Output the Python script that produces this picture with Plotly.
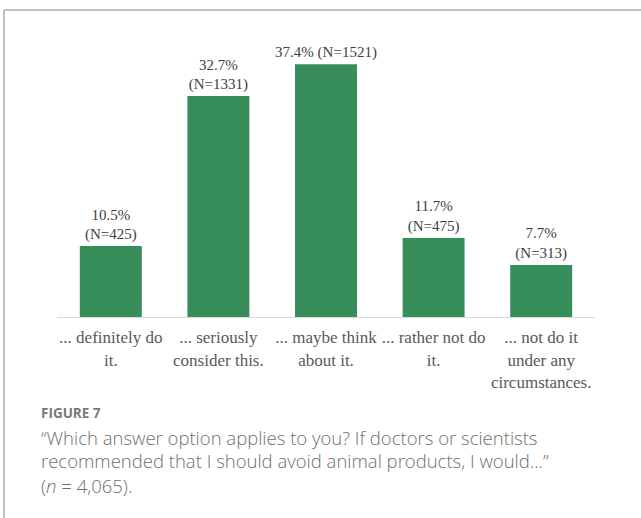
import plotly.graph_objects as go

# Survey answers: "If doctors or scientists recommended that I should avoid animal products, I would..."
categories = [
    "... definitely do<br>it.",
    "... seriously<br>consider this.",
    "... maybe think<br>about it.",
    "... rather not do<br>it.",
    "... not do it<br>under any<br>circumstances.",
]
percent = [10.5, 32.7, 37.4, 11.7, 7.7]
counts = [425, 1331, 1521, 475, 313]
label_joins = ["<br>", "<br>", " ", "<br>", "<br>"]

W, H = 641, 518
M_L, M_R, M_T, M_B = 57, 46, 40, 201
PW, PH = W - M_L - M_R, H - M_T - M_B


def px_x(x):
    return (x - M_L) / PW


def px_y(y):
    return (H - M_B - y) / PH


bar_text = [f"{p}%{j}(N={n})" for p, n, j in zip(percent, counts, label_joins)]

fig = go.Figure(
    go.Bar(
        x=list(range(len(categories))),
        y=percent,
        text=bar_text,
        textposition="outside",
        constraintext="none",
        textfont=dict(family="Liberation Serif", size=15, color="#404040"),
        marker=dict(color="#378e5b", line=dict(width=0)),
        cliponaxis=False,
        hoverinfo="skip",
    )
)

fig.update_layout(
    width=W,
    height=H,
    margin=dict(l=M_L, r=M_R, t=M_T, b=M_B, pad=0),
    paper_bgcolor="white",
    plot_bgcolor="white",
    bargap=0.424,
    showlegend=False,
    xaxis=dict(
        tickmode="array",
        tickvals=list(range(len(categories))),
        ticktext=categories,
        range=[-0.5, len(categories) - 0.5],
        showline=True,
        linecolor="#d9d9d9",
        linewidth=1,
        showgrid=False,
        zeroline=False,
        ticks="",
        ticklabelstandoff=5,
        tickfont=dict(family="Liberation Serif", size=17, color="#595959"),
        fixedrange=True,
    ),
    yaxis=dict(
        range=[0, 41],
        visible=False,
        showgrid=False,
        zeroline=False,
        fixedrange=True,
    ),
)

# Frame around the figure panel
fig.add_shape(type="line", xref="paper", yref="paper",
              x0=px_x(4), x1=px_x(W + 20), y0=px_y(10), y1=px_y(10),
              line=dict(color="#c2c2c2", width=2))
fig.add_shape(type="line", xref="paper", yref="paper",
              x0=px_x(4), x1=px_x(4), y0=px_y(10), y1=px_y(H + 20),
              line=dict(color="#a9a9a9", width=1.5))

# Caption
caption_font = dict(family="Open Sans", size=18.5, color="#6f6f6f", weight=300)
fig.add_annotation(
    text="<b>FIGURE 7</b>", xref="paper", yref="paper",
    x=px_x(39), y=px_y(413), xanchor="left", yanchor="middle", showarrow=False,
    font=dict(family="Open Sans", size=13.5, color="#7a7a7a"),
)
caption_lines = [
    "\u201cWhich answer option applies to you? If doctors or scientists",
    "recommended that I should avoid animal products, I would...\u201d",
    "(<i>n</i> = 4,065).",
]
for line, yc in zip(caption_lines, [437, 461, 485.5]):
    fig.add_annotation(
        text=line, xref="paper", yref="paper",
        x=px_x(39), y=px_y(yc), xanchor="left", yanchor="middle", showarrow=False,
        font=caption_font,
    )

fig.write_html("out.html")
